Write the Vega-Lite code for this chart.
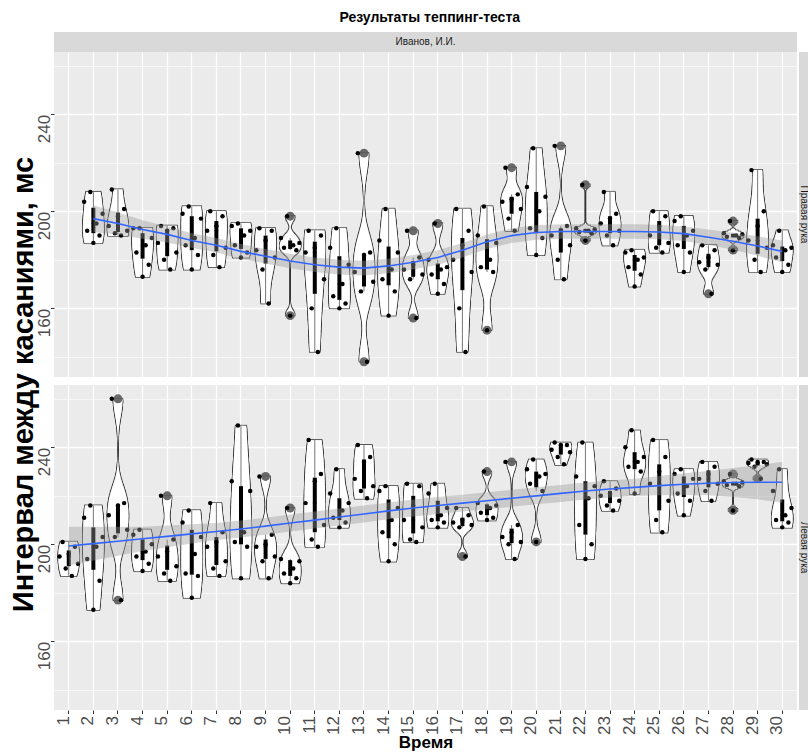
{
  "$schema": "https://vega.github.io/schema/vega-lite/v6.json",
  "background": "white",
  "padding": {"left": 9, "top": 11, "right": 0, "bottom": 0},
  "title": {"text": "Результаты теппинг-теста", "fontSize": 14, "fontWeight": "bold", "color": "black", "anchor": "middle", "frame": "bounds", "dx": 21, "offset": 7},
  "bounds": "flush",
  "columns": 2,
  "spacing": {"row": 0, "column": 2},
  "config": {
    "font": "Liberation Sans",
    "view": {"stroke": null},
    "axis": {"domain": false, "gridColor": "#FFFFFF", "labelColor": "#4D4D4D", "labelFontSize": 17, "labelFont": "Liberation Sans", "tickColor": "#333333", "tickSize": 3.5, "labelPadding": 1.5, "titleFont": "Liberation Sans"},
    "title": {"font": "Liberation Sans"},
    "text": {"font": "Liberation Sans"}
  },
  "datasets": {
    "obs": [
      {"hand":"Правая рука","time":2,"trial":1,"interval":204},{"hand":"Правая рука","time":2,"trial":2,"interval":192},{"hand":"Правая рука","time":2,"trial":3,"interval":208},{"hand":"Правая рука","time":2,"trial":4,"interval":187},{"hand":"Правая рука","time":2,"trial":5,"interval":195},{"hand":"Правая рука","time":2,"trial":6,"interval":190},{"hand":"Правая рука","time":2,"trial":7,"interval":199},
      {"hand":"Правая рука","time":3,"trial":1,"interval":194},{"hand":"Правая рука","time":3,"trial":2,"interval":209},{"hand":"Правая рука","time":3,"trial":3,"interval":191},{"hand":"Правая рука","time":3,"trial":4,"interval":198},{"hand":"Правая рука","time":3,"trial":5,"interval":190},{"hand":"Правая рука","time":3,"trial":6,"interval":201},{"hand":"Правая рука","time":3,"trial":7,"interval":192},
      {"hand":"Правая рука","time":4,"trial":1,"interval":193},{"hand":"Правая рука","time":4,"trial":2,"interval":183},{"hand":"Правая рука","time":4,"trial":3,"interval":193},{"hand":"Правая рука","time":4,"trial":4,"interval":173},{"hand":"Правая рука","time":4,"trial":5,"interval":186},{"hand":"Правая рука","time":4,"trial":6,"interval":178},{"hand":"Правая рука","time":4,"trial":7,"interval":189},
      {"hand":"Правая рука","time":5,"trial":1,"interval":187},{"hand":"Правая рука","time":5,"trial":2,"interval":194},{"hand":"Правая рука","time":5,"trial":3,"interval":180},{"hand":"Правая рука","time":5,"trial":4,"interval":192},{"hand":"Правая рука","time":5,"trial":5,"interval":176},{"hand":"Правая рука","time":5,"trial":6,"interval":193},{"hand":"Правая рука","time":5,"trial":7,"interval":183},
      {"hand":"Правая рука","time":6,"trial":1,"interval":199},{"hand":"Правая рука","time":6,"trial":2,"interval":186},{"hand":"Правая рука","time":6,"trial":3,"interval":202},{"hand":"Правая рука","time":6,"trial":4,"interval":176},{"hand":"Правая рука","time":6,"trial":5,"interval":189},{"hand":"Правая рука","time":6,"trial":6,"interval":182},{"hand":"Правая рука","time":6,"trial":7,"interval":197},
      {"hand":"Правая рука","time":7,"trial":1,"interval":192},{"hand":"Правая рука","time":7,"trial":2,"interval":200},{"hand":"Правая рука","time":7,"trial":3,"interval":182},{"hand":"Правая рука","time":7,"trial":4,"interval":194},{"hand":"Правая рука","time":7,"trial":5,"interval":177},{"hand":"Правая рука","time":7,"trial":6,"interval":198},{"hand":"Правая рука","time":7,"trial":7,"interval":185},
      {"hand":"Правая рука","time":8,"trial":1,"interval":194},{"hand":"Правая рука","time":8,"trial":2,"interval":186},{"hand":"Правая рука","time":8,"trial":3,"interval":195},{"hand":"Правая рука","time":8,"trial":4,"interval":181},{"hand":"Правая рука","time":8,"trial":5,"interval":190},{"hand":"Правая рука","time":8,"trial":6,"interval":183},{"hand":"Правая рука","time":8,"trial":7,"interval":192},
      {"hand":"Правая рука","time":9,"trial":1,"interval":184},{"hand":"Правая рука","time":9,"trial":2,"interval":193},{"hand":"Правая рука","time":9,"trial":3,"interval":176},{"hand":"Правая рука","time":9,"trial":4,"interval":188},{"hand":"Правая рука","time":9,"trial":5,"interval":162},{"hand":"Правая рука","time":9,"trial":6,"interval":192},{"hand":"Правая рука","time":9,"trial":7,"interval":181},
      {"hand":"Правая рука","time":10,"trial":1,"interval":189},{"hand":"Правая рука","time":10,"trial":2,"interval":185},{"hand":"Правая рука","time":10,"trial":3,"interval":198},{"hand":"Правая рука","time":10,"trial":4,"interval":157},{"hand":"Правая рука","time":10,"trial":5,"interval":186},{"hand":"Правая рука","time":10,"trial":6,"interval":184},{"hand":"Правая рука","time":10,"trial":7,"interval":187},
      {"hand":"Правая рука","time":11,"trial":1,"interval":183},{"hand":"Правая рука","time":11,"trial":2,"interval":192},{"hand":"Правая рука","time":11,"trial":3,"interval":160},{"hand":"Правая рука","time":11,"trial":4,"interval":185},{"hand":"Правая рука","time":11,"trial":5,"interval":142},{"hand":"Правая рука","time":11,"trial":6,"interval":190},{"hand":"Правая рука","time":11,"trial":7,"interval":172},
      {"hand":"Правая рука","time":12,"trial":1,"interval":185},{"hand":"Правая рука","time":12,"trial":2,"interval":165},{"hand":"Правая рука","time":12,"trial":3,"interval":193},{"hand":"Правая рука","time":12,"trial":4,"interval":160},{"hand":"Правая рука","time":12,"trial":5,"interval":170},{"hand":"Правая рука","time":12,"trial":6,"interval":162},{"hand":"Правая рука","time":12,"trial":7,"interval":178},
      {"hand":"Правая рука","time":13,"trial":1,"interval":175},{"hand":"Правая рука","time":13,"trial":2,"interval":224},{"hand":"Правая рука","time":13,"trial":3,"interval":167},{"hand":"Правая рука","time":13,"trial":4,"interval":182},{"hand":"Правая рука","time":13,"trial":5,"interval":138},{"hand":"Правая рука","time":13,"trial":6,"interval":183},{"hand":"Правая рука","time":13,"trial":7,"interval":171},
      {"hand":"Правая рука","time":14,"trial":1,"interval":188},{"hand":"Правая рука","time":14,"trial":2,"interval":172},{"hand":"Правая рука","time":14,"trial":3,"interval":201},{"hand":"Правая рука","time":14,"trial":4,"interval":157},{"hand":"Правая рука","time":14,"trial":5,"interval":176},{"hand":"Правая рука","time":14,"trial":6,"interval":167},{"hand":"Правая рука","time":14,"trial":7,"interval":183},
      {"hand":"Правая рука","time":15,"trial":1,"interval":176},{"hand":"Правая рука","time":15,"trial":2,"interval":192},{"hand":"Правая рука","time":15,"trial":3,"interval":172},{"hand":"Правая рука","time":15,"trial":4,"interval":178},{"hand":"Правая рука","time":15,"trial":5,"interval":156},{"hand":"Правая рука","time":15,"trial":6,"interval":181},{"hand":"Правая рука","time":15,"trial":7,"interval":174},
      {"hand":"Правая рука","time":16,"trial":1,"interval":180},{"hand":"Правая рука","time":16,"trial":2,"interval":174},{"hand":"Правая рука","time":16,"trial":3,"interval":195},{"hand":"Правая рука","time":16,"trial":4,"interval":166},{"hand":"Правая рука","time":16,"trial":5,"interval":176},{"hand":"Правая рука","time":16,"trial":6,"interval":170},{"hand":"Правая рука","time":16,"trial":7,"interval":177},
      {"hand":"Правая рука","time":17,"trial":1,"interval":180},{"hand":"Правая рука","time":17,"trial":2,"interval":201},{"hand":"Правая рука","time":17,"trial":3,"interval":160},{"hand":"Правая рука","time":17,"trial":4,"interval":186},{"hand":"Правая рука","time":17,"trial":5,"interval":142},{"hand":"Правая рука","time":17,"trial":6,"interval":192},{"hand":"Правая рука","time":17,"trial":7,"interval":175},
      {"hand":"Правая рука","time":18,"trial":1,"interval":190},{"hand":"Правая рука","time":18,"trial":2,"interval":177},{"hand":"Правая рука","time":18,"trial":3,"interval":202},{"hand":"Правая рука","time":18,"trial":4,"interval":151},{"hand":"Правая рука","time":18,"trial":5,"interval":180},{"hand":"Правая рука","time":18,"trial":6,"interval":175},{"hand":"Правая рука","time":18,"trial":7,"interval":187},
      {"hand":"Правая рука","time":19,"trial":1,"interval":204},{"hand":"Правая рука","time":19,"trial":2,"interval":218},{"hand":"Правая рука","time":19,"trial":3,"interval":197},{"hand":"Правая рука","time":19,"trial":4,"interval":205},{"hand":"Правая рука","time":19,"trial":5,"interval":192},{"hand":"Правая рука","time":19,"trial":6,"interval":207},{"hand":"Правая рука","time":19,"trial":7,"interval":201},
      {"hand":"Правая рука","time":20,"trial":1,"interval":210},{"hand":"Правая рука","time":20,"trial":2,"interval":193},{"hand":"Правая рука","time":20,"trial":3,"interval":226},{"hand":"Правая рука","time":20,"trial":4,"interval":182},{"hand":"Правая рука","time":20,"trial":5,"interval":200},{"hand":"Правая рука","time":20,"trial":6,"interval":189},{"hand":"Правая рука","time":20,"trial":7,"interval":206},
      {"hand":"Правая рука","time":21,"trial":1,"interval":190},{"hand":"Правая рука","time":21,"trial":2,"interval":227},{"hand":"Правая рука","time":21,"trial":3,"interval":180},{"hand":"Правая рука","time":21,"trial":4,"interval":192},{"hand":"Правая рука","time":21,"trial":5,"interval":172},{"hand":"Правая рука","time":21,"trial":6,"interval":194},{"hand":"Правая рука","time":21,"trial":7,"interval":186},
      {"hand":"Правая рука","time":22,"trial":1,"interval":193},{"hand":"Правая рука","time":22,"trial":2,"interval":191.5},{"hand":"Правая рука","time":22,"trial":3,"interval":211},{"hand":"Правая рука","time":22,"trial":4,"interval":188},{"hand":"Правая рука","time":22,"trial":5,"interval":192},{"hand":"Правая рука","time":22,"trial":6,"interval":191},{"hand":"Правая рука","time":22,"trial":7,"interval":192.5},
      {"hand":"Правая рука","time":23,"trial":1,"interval":195},{"hand":"Правая рука","time":23,"trial":2,"interval":208},{"hand":"Правая рука","time":23,"trial":3,"interval":190},{"hand":"Правая рука","time":23,"trial":4,"interval":197},{"hand":"Правая рука","time":23,"trial":5,"interval":186},{"hand":"Правая рука","time":23,"trial":6,"interval":199},{"hand":"Правая рука","time":23,"trial":7,"interval":192},
      {"hand":"Правая рука","time":24,"trial":1,"interval":183},{"hand":"Правая рука","time":24,"trial":2,"interval":177},{"hand":"Правая рука","time":24,"trial":3,"interval":184},{"hand":"Правая рука","time":24,"trial":4,"interval":169},{"hand":"Правая рука","time":24,"trial":5,"interval":180},{"hand":"Правая рука","time":24,"trial":6,"interval":174},{"hand":"Правая рука","time":24,"trial":7,"interval":181},
      {"hand":"Правая рука","time":25,"trial":1,"interval":190},{"hand":"Правая рука","time":25,"trial":2,"interval":200},{"hand":"Правая рука","time":25,"trial":3,"interval":185},{"hand":"Правая рука","time":25,"trial":4,"interval":194},{"hand":"Правая рука","time":25,"trial":5,"interval":183},{"hand":"Правая рука","time":25,"trial":6,"interval":198},{"hand":"Правая рука","time":25,"trial":7,"interval":187},
      {"hand":"Правая рука","time":26,"trial":1,"interval":196},{"hand":"Правая рука","time":26,"trial":2,"interval":186},{"hand":"Правая рука","time":26,"trial":3,"interval":198},{"hand":"Правая рука","time":26,"trial":4,"interval":175},{"hand":"Правая рука","time":26,"trial":5,"interval":190},{"hand":"Правая рука","time":26,"trial":6,"interval":183},{"hand":"Правая рука","time":26,"trial":7,"interval":192},
      {"hand":"Правая рука","time":27,"trial":1,"interval":179},{"hand":"Правая рука","time":27,"trial":2,"interval":186},{"hand":"Правая рука","time":27,"trial":3,"interval":176},{"hand":"Правая рука","time":27,"trial":4,"interval":181},{"hand":"Правая рука","time":27,"trial":5,"interval":166},{"hand":"Правая рука","time":27,"trial":6,"interval":184},{"hand":"Правая рука","time":27,"trial":7,"interval":178},
      {"hand":"Правая рука","time":28,"trial":1,"interval":191},{"hand":"Правая рука","time":28,"trial":2,"interval":189.5},{"hand":"Правая рука","time":28,"trial":3,"interval":196},{"hand":"Правая рука","time":28,"trial":4,"interval":184},{"hand":"Правая рука","time":28,"trial":5,"interval":190},{"hand":"Правая рука","time":28,"trial":6,"interval":189},{"hand":"Правая рука","time":28,"trial":7,"interval":190.5},
      {"hand":"Правая рука","time":29,"trial":1,"interval":188},{"hand":"Правая рука","time":29,"trial":2,"interval":217},{"hand":"Правая рука","time":29,"trial":3,"interval":180},{"hand":"Правая рука","time":29,"trial":4,"interval":194},{"hand":"Правая рука","time":29,"trial":5,"interval":175},{"hand":"Правая рука","time":29,"trial":6,"interval":200},{"hand":"Правая рука","time":29,"trial":7,"interval":185},
      {"hand":"Правая рука","time":30,"trial":1,"interval":186},{"hand":"Правая рука","time":30,"trial":2,"interval":181},{"hand":"Правая рука","time":30,"trial":3,"interval":192},{"hand":"Правая рука","time":30,"trial":4,"interval":175},{"hand":"Правая рука","time":30,"trial":5,"interval":184},{"hand":"Правая рука","time":30,"trial":6,"interval":178},{"hand":"Правая рука","time":30,"trial":7,"interval":185},
      {"hand":"Левая рука","time":1,"trial":1,"interval":195},{"hand":"Левая рука","time":1,"trial":2,"interval":201},{"hand":"Левая рука","time":1,"trial":3,"interval":190},{"hand":"Левая рука","time":1,"trial":4,"interval":196},{"hand":"Левая рука","time":1,"trial":5,"interval":187},{"hand":"Левая рука","time":1,"trial":6,"interval":199},{"hand":"Левая рука","time":1,"trial":7,"interval":192},
      {"hand":"Левая рука","time":2,"trial":1,"interval":211},{"hand":"Левая рука","time":2,"trial":2,"interval":194},{"hand":"Левая рука","time":2,"trial":3,"interval":216},{"hand":"Левая рука","time":2,"trial":4,"interval":173},{"hand":"Левая рука","time":2,"trial":5,"interval":199},{"hand":"Левая рука","time":2,"trial":6,"interval":185},{"hand":"Левая рука","time":2,"trial":7,"interval":203},
      {"hand":"Левая рука","time":3,"trial":1,"interval":212},{"hand":"Левая рука","time":3,"trial":2,"interval":260},{"hand":"Левая рука","time":3,"trial":3,"interval":203},{"hand":"Левая рука","time":3,"trial":4,"interval":216},{"hand":"Левая рука","time":3,"trial":5,"interval":177},{"hand":"Левая рука","time":3,"trial":6,"interval":217},{"hand":"Левая рука","time":3,"trial":7,"interval":206},
      {"hand":"Левая рука","time":4,"trial":1,"interval":204},{"hand":"Левая рука","time":4,"trial":2,"interval":195},{"hand":"Левая рука","time":4,"trial":3,"interval":206},{"hand":"Левая рука","time":4,"trial":4,"interval":189},{"hand":"Левая рука","time":4,"trial":5,"interval":197},{"hand":"Левая рука","time":4,"trial":6,"interval":192},{"hand":"Левая рука","time":4,"trial":7,"interval":200},
      {"hand":"Левая рука","time":5,"trial":1,"interval":195},{"hand":"Левая рука","time":5,"trial":2,"interval":220},{"hand":"Левая рука","time":5,"trial":3,"interval":188},{"hand":"Левая рука","time":5,"trial":4,"interval":197},{"hand":"Левая рука","time":5,"trial":5,"interval":185},{"hand":"Левая рука","time":5,"trial":6,"interval":202},{"hand":"Левая рука","time":5,"trial":7,"interval":191},
      {"hand":"Левая рука","time":6,"trial":1,"interval":209},{"hand":"Левая рука","time":6,"trial":2,"interval":188},{"hand":"Левая рука","time":6,"trial":3,"interval":214},{"hand":"Левая рука","time":6,"trial":4,"interval":178},{"hand":"Левая рука","time":6,"trial":5,"interval":196},{"hand":"Левая рука","time":6,"trial":6,"interval":187},{"hand":"Левая рука","time":6,"trial":7,"interval":203},
      {"hand":"Левая рука","time":7,"trial":1,"interval":199},{"hand":"Левая рука","time":7,"trial":2,"interval":217},{"hand":"Левая рука","time":7,"trial":3,"interval":190},{"hand":"Левая рука","time":7,"trial":4,"interval":201},{"hand":"Левая рука","time":7,"trial":5,"interval":187},{"hand":"Левая рука","time":7,"trial":6,"interval":205},{"hand":"Левая рука","time":7,"trial":7,"interval":193},
      {"hand":"Левая рука","time":8,"trial":1,"interval":226},{"hand":"Левая рука","time":8,"trial":2,"interval":201},{"hand":"Левая рука","time":8,"trial":3,"interval":249},{"hand":"Левая рука","time":8,"trial":4,"interval":186},{"hand":"Левая рука","time":8,"trial":5,"interval":205},{"hand":"Левая рука","time":8,"trial":6,"interval":199},{"hand":"Левая рука","time":8,"trial":7,"interval":222},
      {"hand":"Левая рука","time":9,"trial":1,"interval":199},{"hand":"Левая рука","time":9,"trial":2,"interval":228},{"hand":"Левая рука","time":9,"trial":3,"interval":193},{"hand":"Левая рука","time":9,"trial":4,"interval":200},{"hand":"Левая рука","time":9,"trial":5,"interval":186},{"hand":"Левая рука","time":9,"trial":6,"interval":204},{"hand":"Левая рука","time":9,"trial":7,"interval":195},
      {"hand":"Левая рука","time":10,"trial":1,"interval":194},{"hand":"Левая рука","time":10,"trial":2,"interval":188},{"hand":"Левая рука","time":10,"trial":3,"interval":215},{"hand":"Левая рука","time":10,"trial":4,"interval":184},{"hand":"Левая рука","time":10,"trial":5,"interval":190},{"hand":"Левая рука","time":10,"trial":6,"interval":186},{"hand":"Левая рука","time":10,"trial":7,"interval":193},
      {"hand":"Левая рука","time":11,"trial":1,"interval":217},{"hand":"Левая рука","time":11,"trial":2,"interval":243},{"hand":"Левая рука","time":11,"trial":3,"interval":202},{"hand":"Левая рука","time":11,"trial":4,"interval":226},{"hand":"Левая рука","time":11,"trial":5,"interval":199},{"hand":"Левая рука","time":11,"trial":6,"interval":229},{"hand":"Левая рука","time":11,"trial":7,"interval":208},
      {"hand":"Левая рука","time":12,"trial":1,"interval":221},{"hand":"Левая рука","time":12,"trial":2,"interval":211},{"hand":"Левая рука","time":12,"trial":3,"interval":231},{"hand":"Левая рука","time":12,"trial":4,"interval":207},{"hand":"Левая рука","time":12,"trial":5,"interval":214},{"hand":"Левая рука","time":12,"trial":6,"interval":209},{"hand":"Левая рука","time":12,"trial":7,"interval":217},
      {"hand":"Левая рука","time":13,"trial":1,"interval":227},{"hand":"Левая рука","time":13,"trial":2,"interval":241},{"hand":"Левая рука","time":13,"trial":3,"interval":222},{"hand":"Левая рука","time":13,"trial":4,"interval":234},{"hand":"Левая рука","time":13,"trial":5,"interval":219},{"hand":"Левая рука","time":13,"trial":6,"interval":236},{"hand":"Левая рука","time":13,"trial":7,"interval":224},
      {"hand":"Левая рука","time":14,"trial":1,"interval":222},{"hand":"Левая рука","time":14,"trial":2,"interval":205},{"hand":"Левая рука","time":14,"trial":3,"interval":224},{"hand":"Левая рука","time":14,"trial":4,"interval":193},{"hand":"Левая рука","time":14,"trial":5,"interval":210},{"hand":"Левая рука","time":14,"trial":6,"interval":200},{"hand":"Левая рука","time":14,"trial":7,"interval":215},
      {"hand":"Левая рука","time":15,"trial":1,"interval":210},{"hand":"Левая рука","time":15,"trial":2,"interval":225},{"hand":"Левая рука","time":15,"trial":3,"interval":202},{"hand":"Левая рука","time":15,"trial":4,"interval":216},{"hand":"Левая рука","time":15,"trial":5,"interval":201},{"hand":"Левая рука","time":15,"trial":6,"interval":224},{"hand":"Левая рука","time":15,"trial":7,"interval":207},
      {"hand":"Левая рука","time":16,"trial":1,"interval":221},{"hand":"Левая рука","time":16,"trial":2,"interval":210},{"hand":"Левая рука","time":16,"trial":3,"interval":225},{"hand":"Левая рука","time":16,"trial":4,"interval":207},{"hand":"Левая рука","time":16,"trial":5,"interval":212},{"hand":"Левая рука","time":16,"trial":6,"interval":209},{"hand":"Левая рука","time":16,"trial":7,"interval":215},
      {"hand":"Левая рука","time":17,"trial":1,"interval":209},{"hand":"Левая рука","time":17,"trial":2,"interval":215},{"hand":"Левая рука","time":17,"trial":3,"interval":207},{"hand":"Левая рука","time":17,"trial":4,"interval":210},{"hand":"Левая рука","time":17,"trial":5,"interval":195},{"hand":"Левая рука","time":17,"trial":6,"interval":212},{"hand":"Левая рука","time":17,"trial":7,"interval":208},
      {"hand":"Левая рука","time":18,"trial":1,"interval":217},{"hand":"Левая рука","time":18,"trial":2,"interval":213},{"hand":"Левая рука","time":18,"trial":3,"interval":230},{"hand":"Левая рука","time":18,"trial":4,"interval":210},{"hand":"Левая рука","time":18,"trial":5,"interval":215},{"hand":"Левая рука","time":18,"trial":6,"interval":211},{"hand":"Левая рука","time":18,"trial":7,"interval":216},
      {"hand":"Левая рука","time":19,"trial":1,"interval":203},{"hand":"Левая рука","time":19,"trial":2,"interval":234},{"hand":"Левая рука","time":19,"trial":3,"interval":200},{"hand":"Левая рука","time":19,"trial":4,"interval":205},{"hand":"Левая рука","time":19,"trial":5,"interval":194},{"hand":"Левая рука","time":19,"trial":6,"interval":208},{"hand":"Левая рука","time":19,"trial":7,"interval":201},
      {"hand":"Левая рука","time":20,"trial":1,"interval":231},{"hand":"Левая рука","time":20,"trial":2,"interval":225},{"hand":"Левая рука","time":20,"trial":3,"interval":235},{"hand":"Левая рука","time":20,"trial":4,"interval":201},{"hand":"Левая рука","time":20,"trial":5,"interval":228},{"hand":"Левая рука","time":20,"trial":6,"interval":222},{"hand":"Левая рука","time":20,"trial":7,"interval":229},
      {"hand":"Левая рука","time":21,"trial":1,"interval":239},{"hand":"Левая рука","time":21,"trial":2,"interval":242},{"hand":"Левая рука","time":21,"trial":3,"interval":236},{"hand":"Левая рука","time":21,"trial":4,"interval":241},{"hand":"Левая рука","time":21,"trial":5,"interval":233},{"hand":"Левая рука","time":21,"trial":6,"interval":241},{"hand":"Левая рука","time":21,"trial":7,"interval":238},
      {"hand":"Левая рука","time":22,"trial":1,"interval":228},{"hand":"Левая рука","time":22,"trial":2,"interval":208},{"hand":"Левая рука","time":22,"trial":3,"interval":242},{"hand":"Левая рука","time":22,"trial":4,"interval":194},{"hand":"Левая рука","time":22,"trial":5,"interval":219},{"hand":"Левая рука","time":22,"trial":6,"interval":200},{"hand":"Левая рука","time":22,"trial":7,"interval":224},
      {"hand":"Левая рука","time":23,"trial":1,"interval":220},{"hand":"Левая рука","time":23,"trial":2,"interval":226},{"hand":"Левая рука","time":23,"trial":3,"interval":216},{"hand":"Левая рука","time":23,"trial":4,"interval":221},{"hand":"Левая рука","time":23,"trial":5,"interval":214},{"hand":"Левая рука","time":23,"trial":6,"interval":223},{"hand":"Левая рука","time":23,"trial":7,"interval":218},
      {"hand":"Левая рука","time":24,"trial":1,"interval":240},{"hand":"Левая рука","time":24,"trial":2,"interval":232},{"hand":"Левая рука","time":24,"trial":3,"interval":247},{"hand":"Левая рука","time":24,"trial":4,"interval":221},{"hand":"Левая рука","time":24,"trial":5,"interval":234},{"hand":"Левая рука","time":24,"trial":6,"interval":230},{"hand":"Левая рука","time":24,"trial":7,"interval":236},
      {"hand":"Левая рука","time":25,"trial":1,"interval":225},{"hand":"Левая рука","time":25,"trial":2,"interval":243},{"hand":"Левая рука","time":25,"trial":3,"interval":210},{"hand":"Левая рука","time":25,"trial":4,"interval":230},{"hand":"Левая рука","time":25,"trial":5,"interval":205},{"hand":"Левая рука","time":25,"trial":6,"interval":236},{"hand":"Левая рука","time":25,"trial":7,"interval":218},
      {"hand":"Левая рука","time":26,"trial":1,"interval":229},{"hand":"Левая рука","time":26,"trial":2,"interval":221},{"hand":"Левая рука","time":26,"trial":3,"interval":231},{"hand":"Левая рука","time":26,"trial":4,"interval":212},{"hand":"Левая рука","time":26,"trial":5,"interval":224},{"hand":"Левая рука","time":26,"trial":6,"interval":218},{"hand":"Левая рука","time":26,"trial":7,"interval":227},
      {"hand":"Левая рука","time":27,"trial":1,"interval":227},{"hand":"Левая рука","time":27,"trial":2,"interval":234},{"hand":"Левая рука","time":27,"trial":3,"interval":222},{"hand":"Левая рука","time":27,"trial":4,"interval":229},{"hand":"Левая рука","time":27,"trial":5,"interval":218},{"hand":"Левая рука","time":27,"trial":6,"interval":232},{"hand":"Левая рука","time":27,"trial":7,"interval":225},
      {"hand":"Левая рука","time":28,"trial":1,"interval":226},{"hand":"Левая рука","time":28,"trial":2,"interval":224.5},{"hand":"Левая рука","time":28,"trial":3,"interval":229},{"hand":"Левая рука","time":28,"trial":4,"interval":214},{"hand":"Левая рука","time":28,"trial":5,"interval":225},{"hand":"Левая рука","time":28,"trial":6,"interval":224},{"hand":"Левая рука","time":28,"trial":7,"interval":225.5},
      {"hand":"Левая рука","time":29,"trial":1,"interval":233.5},{"hand":"Левая рука","time":29,"trial":2,"interval":235},{"hand":"Левая рука","time":29,"trial":3,"interval":232},{"hand":"Левая рука","time":29,"trial":4,"interval":234},{"hand":"Левая рука","time":29,"trial":5,"interval":227},{"hand":"Левая рука","time":29,"trial":6,"interval":234},{"hand":"Левая рука","time":29,"trial":7,"interval":233},
      {"hand":"Левая рука","time":30,"trial":1,"interval":222},{"hand":"Левая рука","time":30,"trial":2,"interval":210},{"hand":"Левая рука","time":30,"trial":3,"interval":231},{"hand":"Левая рука","time":30,"trial":4,"interval":207},{"hand":"Левая рука","time":30,"trial":5,"interval":212},{"hand":"Левая рука","time":30,"trial":6,"interval":209},{"hand":"Левая рука","time":30,"trial":7,"interval":215}
    ],
    "smooth": [
      {"hand":"Правая рука","time":2,"fit":197,"lower":191.5,"upper":202.5},
      {"hand":"Правая рука","time":3,"fit":195,"lower":190.5,"upper":199.5},
      {"hand":"Правая рука","time":4,"fit":192.5,"lower":188.7,"upper":196.3},
      {"hand":"Правая рука","time":5,"fit":190.5,"lower":187.2,"upper":193.8},
      {"hand":"Правая рука","time":6,"fit":188,"lower":185,"upper":191},
      {"hand":"Правая рука","time":7,"fit":186,"lower":183,"upper":189},
      {"hand":"Правая рука","time":8,"fit":183.5,"lower":180.5,"upper":186.5},
      {"hand":"Правая рука","time":9,"fit":181.5,"lower":178.5,"upper":184.5},
      {"hand":"Правая рука","time":10,"fit":179.5,"lower":176.5,"upper":182.5},
      {"hand":"Правая рука","time":11,"fit":178,"lower":175,"upper":181},
      {"hand":"Правая рука","time":12,"fit":177,"lower":174,"upper":180},
      {"hand":"Правая рука","time":13,"fit":176.6,"lower":173.6,"upper":179.6},
      {"hand":"Правая рука","time":14,"fit":177.5,"lower":174.5,"upper":180.5},
      {"hand":"Правая рука","time":15,"fit":179,"lower":176,"upper":182},
      {"hand":"Правая рука","time":16,"fit":181,"lower":178,"upper":184},
      {"hand":"Правая рука","time":17,"fit":184,"lower":181,"upper":187},
      {"hand":"Правая рука","time":18,"fit":187.5,"lower":184.5,"upper":190.5},
      {"hand":"Правая рука","time":19,"fit":190,"lower":187,"upper":193},
      {"hand":"Правая рука","time":20,"fit":191.3,"lower":188.3,"upper":194.3},
      {"hand":"Правая рука","time":21,"fit":191.7,"lower":188.7,"upper":194.7},
      {"hand":"Правая рука","time":22,"fit":191.7,"lower":188.7,"upper":194.7},
      {"hand":"Правая рука","time":23,"fit":191.7,"lower":188.7,"upper":194.7},
      {"hand":"Правая рука","time":24,"fit":191.7,"lower":188.7,"upper":194.7},
      {"hand":"Правая рука","time":25,"fit":191.5,"lower":188.5,"upper":194.5},
      {"hand":"Правая рука","time":26,"fit":190.8,"lower":187.8,"upper":193.8},
      {"hand":"Правая рука","time":27,"fit":189.3,"lower":186.1,"upper":192.5},
      {"hand":"Правая рука","time":28,"fit":187.7,"lower":184.2,"upper":191.2},
      {"hand":"Правая рука","time":29,"fit":185.7,"lower":181.7,"upper":189.7},
      {"hand":"Правая рука","time":30,"fit":183.5,"lower":179,"upper":188},
      {"hand":"Левая рука","time":1,"fit":199.3,"lower":191.3,"upper":207.3},
      {"hand":"Левая рука","time":2,"fit":200.3,"lower":193.3,"upper":207.3},
      {"hand":"Левая рука","time":3,"fit":201.3,"lower":195.3,"upper":207.3},
      {"hand":"Левая рука","time":4,"fit":202.3,"lower":197.3,"upper":207.3},
      {"hand":"Левая рука","time":5,"fit":203.3,"lower":198.8,"upper":207.8},
      {"hand":"Левая рука","time":6,"fit":204.3,"lower":200.3,"upper":208.3},
      {"hand":"Левая рука","time":7,"fit":205.3,"lower":201.8,"upper":208.8},
      {"hand":"Левая рука","time":8,"fit":206.3,"lower":202.8,"upper":209.8},
      {"hand":"Левая рука","time":9,"fit":207.5,"lower":204,"upper":211},
      {"hand":"Левая рука","time":10,"fit":208.8,"lower":205.3,"upper":212.3},
      {"hand":"Левая рука","time":11,"fit":210,"lower":206.5,"upper":213.5},
      {"hand":"Левая рука","time":12,"fit":211.3,"lower":207.8,"upper":214.8},
      {"hand":"Левая рука","time":13,"fit":212.5,"lower":209,"upper":216},
      {"hand":"Левая рука","time":14,"fit":213.8,"lower":210.3,"upper":217.3},
      {"hand":"Левая рука","time":15,"fit":215,"lower":211.5,"upper":218.5},
      {"hand":"Левая рука","time":16,"fit":216,"lower":212.5,"upper":219.5},
      {"hand":"Левая рука","time":17,"fit":217,"lower":213.5,"upper":220.5},
      {"hand":"Левая рука","time":18,"fit":218,"lower":214.5,"upper":221.5},
      {"hand":"Левая рука","time":19,"fit":219,"lower":215.5,"upper":222.5},
      {"hand":"Левая рука","time":20,"fit":220,"lower":216.5,"upper":223.5},
      {"hand":"Левая рука","time":21,"fit":221,"lower":217.5,"upper":224.5},
      {"hand":"Левая рука","time":22,"fit":222,"lower":218.5,"upper":225.5},
      {"hand":"Левая рука","time":23,"fit":222.8,"lower":219.3,"upper":226.3},
      {"hand":"Левая рука","time":24,"fit":223.5,"lower":220,"upper":227},
      {"hand":"Левая рука","time":25,"fit":224.2,"lower":220.2,"upper":228.2},
      {"hand":"Левая рука","time":26,"fit":224.8,"lower":220.3,"upper":229.3},
      {"hand":"Левая рука","time":27,"fit":225.2,"lower":220.2,"upper":230.2},
      {"hand":"Левая рука","time":28,"fit":225.5,"lower":219.5,"upper":231.5},
      {"hand":"Левая рука","time":29,"fit":225.6,"lower":218.6,"upper":232.6},
      {"hand":"Левая рука","time":30,"fit":225.6,"lower":217.1,"upper":234.1}
    ]
  },
  "concat": [
    {
      "width": 743, "height": 20,
      "view": {"fill": "#D9D9D9", "stroke": null},
      "data": {"values": [{"person": "Иванов, И.И."}]},
      "mark": {"type": "text", "fontSize": 10, "color": "#1A1A1A", "baseline": "middle", "align": "center"},
      "encoding": {"text": {"field": "person"}}
    },
    {
      "width": 9, "height": 20,
      "view": {"fill": null, "stroke": null},
      "data": {"values": [{}]},
      "mark": {"type": "rect", "opacity": 0},
      "encoding": {}
    },
    {
      "width": 743, "height": 325,
      "view": {"fill": "#EBEBEB", "stroke": null},
      "data": {"name": "obs"},
      "layer": [
        {
          "transform": [
            {"filter": "datum.hand == 'Правая рука'"},
            {"joinaggregate": [{"op": "min", "field": "interval", "as": "vmin"}, {"op": "max", "field": "interval", "as": "vmax"}], "groupby": ["time"]},
            {"density": "interval", "groupby": ["time", "vmin", "vmax"], "extent": [131, 266], "steps": 271, "as": ["value", "density"]},
            {"filter": "datum.value >= datum.vmin && datum.value <= datum.vmax"},
            {"joinaggregate": [{"op": "max", "field": "density", "as": "dmax"}], "groupby": ["time"]},
            {"fold": ["density", "dmax"], "as": ["part", "amount"]},
            {"stack": "amount", "groupby": ["time", "value"], "offset": "normalize", "sort": [{"field": "part", "order": "ascending"}], "as": ["w0", "w1"]},
            {"filter": "datum.part == 'density'"}
          ],
          "layer": [
            {
              "mark": {"type": "tick", "color": "#333333", "thickness": 3.4, "opacity": 1},
              "encoding": {
                "x": {"field": "time", "type": "ordinal", "title": null, "scale": {"type": "band", "domain": [1,2,3,4,5,6,7,8,9,10,11,12,13,14,15,16,17,18,19,20,21,22,23,24,25,26,27,28,29,30], "paddingInner": 0, "paddingOuter": 0.1},
                  "axis": {"title": null, "labels": false, "ticks": false, "domain": false, "grid": true, "gridColor": "#FFFFFF", "gridWidth": 1.2, "bandPosition": 0.5}},
                "y": {"field": "value", "type": "quantitative", "title": "Интервал между касаниями, мс", "scale": {"domain": [131.7, 265.7], "nice": false, "zero": false},
                  "axis": {"title": "Интервал между касаниями, мс", "titleFontSize": 29, "titleFontWeight": "bold", "titleColor": "#000000", "titleX": -22, "titleY": 332, "titleAngle": -90, "titleAlign": "center", "titleBaseline": "alphabetic",
                    "values": [140, 160, 180, 200, 220, 240, 260], "labelExpr": "datum.value % 40 == 0 ? datum.label : ''", "labelAngle": -90, "labelAlign": "right", "labelBaseline": "alphabetic",
                    "grid": true, "gridColor": "#FFFFFF", "gridWidth": {"condition": {"test": "datum.value % 40 == 0", "value": 1.3}, "value": 0.6},
                    "tickOpacity": {"condition": {"test": "datum.value % 40 == 0", "value": 1}, "value": 0}}},
                "size": {"field": "w1", "type": "quantitative", "scale": {"domain": [0, 0.5], "range": [1.4, 22.4]}, "legend": null}
              }
            },
            {
              "mark": {"type": "tick", "color": "#FFFFFF", "thickness": 2, "opacity": 1},
              "encoding": {
                "x": {"field": "time", "type": "ordinal", "title": null},
                "y": {"field": "value", "type": "quantitative", "title": "Интервал между касаниями, мс"},
                "size": {"field": "w1", "type": "quantitative", "scale": {"domain": [0, 0.5], "range": [0, 21]}, "legend": null}
              }
            }
          ],
          "resolve": {"scale": {"size": "independent"}}
        },
        {
          "transform": [{"filter": "datum.hand == 'Правая рука'"}],
          "mark": {"type": "boxplot", "extent": 1.5, "size": 4, "color": "#000000", "median": {"color": "#000000"}, "rule": {"color": "#777777", "strokeWidth": 1}, "ticks": false, "outliers": {"color": "#5A5A5A", "size": 80, "filled": true, "opacity": 0.9}},
          "encoding": {"x": {"field": "time", "type": "ordinal", "title": null}, "y": {"field": "interval", "type": "quantitative", "title": "Интервал между касаниями, мс"}}
        },
        {
          "transform": [{"filter": "datum.hand == 'Правая рука'"}],
          "mark": {"type": "circle", "color": "#000000", "size": 20, "opacity": 1},
          "encoding": {"x": {"field": "time", "type": "ordinal", "title": null}, "xOffset": {"field": "trial", "type": "ordinal", "scale": {"paddingOuter": 1, "paddingInner": 0}}, "y": {"field": "interval", "type": "quantitative", "title": "Интервал между касаниями, мс"}}
        },
        {
          "data": {"name": "smooth"},
          "transform": [{"filter": "datum.hand == 'Правая рука'"}],
          "mark": {"type": "area", "color": "#999999", "opacity": 0.4},
          "encoding": {"x": {"field": "time", "type": "ordinal", "title": null}, "y": {"field": "lower", "type": "quantitative", "title": "Интервал между касаниями, мс"}, "y2": {"field": "upper"}}
        },
        {
          "data": {"name": "smooth"},
          "transform": [{"filter": "datum.hand == 'Правая рука'"}],
          "mark": {"type": "line", "color": "#3366FF", "strokeWidth": 1.6},
          "encoding": {"x": {"field": "time", "type": "ordinal", "title": null}, "y": {"field": "fit", "type": "quantitative", "title": "Интервал между касаниями, мс"}}
        }
      ]
    },
    {
      "width": 9, "height": 325,
      "view": {"fill": "#D9D9D9", "stroke": null},
      "data": {"values": [{"hand": "Правая рука"}]},
      "mark": {"type": "text", "angle": 90, "fontSize": 10, "color": "#1A1A1A", "baseline": "middle", "align": "center"},
      "encoding": {"text": {"field": "hand"}}
    },
    {
      "width": 743, "height": 8,
      "view": {"fill": null, "stroke": null},
      "data": {"values": [{}]},
      "mark": {"type": "rect", "opacity": 0},
      "encoding": {}
    },
    {
      "width": 9, "height": 8,
      "view": {"fill": null, "stroke": null},
      "data": {"values": [{}]},
      "mark": {"type": "rect", "opacity": 0},
      "encoding": {}
    },
    {
      "width": 743, "height": 325,
      "view": {"fill": "#EBEBEB", "stroke": null},
      "data": {"name": "obs"},
      "layer": [
        {
          "transform": [
            {"filter": "datum.hand == 'Левая рука'"},
            {"joinaggregate": [{"op": "min", "field": "interval", "as": "vmin"}, {"op": "max", "field": "interval", "as": "vmax"}], "groupby": ["time"]},
            {"density": "interval", "groupby": ["time", "vmin", "vmax"], "extent": [131, 266], "steps": 271, "as": ["value", "density"]},
            {"filter": "datum.value >= datum.vmin && datum.value <= datum.vmax"},
            {"joinaggregate": [{"op": "max", "field": "density", "as": "dmax"}], "groupby": ["time"]},
            {"fold": ["density", "dmax"], "as": ["part", "amount"]},
            {"stack": "amount", "groupby": ["time", "value"], "offset": "normalize", "sort": [{"field": "part", "order": "ascending"}], "as": ["w0", "w1"]},
            {"filter": "datum.part == 'density'"}
          ],
          "layer": [
            {
              "mark": {"type": "tick", "color": "#333333", "thickness": 3.4, "opacity": 1},
              "encoding": {
                "x": {"field": "time", "type": "ordinal", "title": "Время", "scale": {"type": "band", "domain": [1,2,3,4,5,6,7,8,9,10,11,12,13,14,15,16,17,18,19,20,21,22,23,24,25,26,27,28,29,30], "paddingInner": 0, "paddingOuter": 0.1},
                  "axis": {"title": "Время", "titleFontSize": 17, "titleFontWeight": "bold", "titleColor": "#000000", "titlePadding": 0, "labelAngle": -90, "labelAlign": "right", "labelBaseline": "alphabetic", "labelPadding": 2, "labelOverlap": false, "ticks": true, "domain": false, "grid": true, "gridColor": "#FFFFFF", "gridWidth": 1.2, "bandPosition": 0.5}},
                "y": {"field": "value", "type": "quantitative", "title": null, "scale": {"domain": [131.7, 265.7], "nice": false, "zero": false},
                  "axis": {"title": null,
                    "values": [140, 160, 180, 200, 220, 240, 260], "labelExpr": "datum.value % 40 == 0 ? datum.label : ''", "labelAngle": -90, "labelAlign": "right", "labelBaseline": "alphabetic",
                    "grid": true, "gridColor": "#FFFFFF", "gridWidth": {"condition": {"test": "datum.value % 40 == 0", "value": 1.3}, "value": 0.6},
                    "tickOpacity": {"condition": {"test": "datum.value % 40 == 0", "value": 1}, "value": 0}}},
                "size": {"field": "w1", "type": "quantitative", "scale": {"domain": [0, 0.5], "range": [1.4, 22.4]}, "legend": null}
              }
            },
            {
              "mark": {"type": "tick", "color": "#FFFFFF", "thickness": 2, "opacity": 1},
              "encoding": {
                "x": {"field": "time", "type": "ordinal", "title": "Время"},
                "y": {"field": "value", "type": "quantitative", "title": null},
                "size": {"field": "w1", "type": "quantitative", "scale": {"domain": [0, 0.5], "range": [0, 21]}, "legend": null}
              }
            }
          ],
          "resolve": {"scale": {"size": "independent"}}
        },
        {
          "transform": [{"filter": "datum.hand == 'Левая рука'"}],
          "mark": {"type": "boxplot", "extent": 1.5, "size": 4, "color": "#000000", "median": {"color": "#000000"}, "rule": {"color": "#777777", "strokeWidth": 1}, "ticks": false, "outliers": {"color": "#5A5A5A", "size": 80, "filled": true, "opacity": 0.9}},
          "encoding": {"x": {"field": "time", "type": "ordinal", "title": "Время"}, "y": {"field": "interval", "type": "quantitative", "title": null}}
        },
        {
          "transform": [{"filter": "datum.hand == 'Левая рука'"}],
          "mark": {"type": "circle", "color": "#000000", "size": 20, "opacity": 1},
          "encoding": {"x": {"field": "time", "type": "ordinal", "title": "Время"}, "xOffset": {"field": "trial", "type": "ordinal", "scale": {"paddingOuter": 1, "paddingInner": 0}}, "y": {"field": "interval", "type": "quantitative", "title": null}}
        },
        {
          "data": {"name": "smooth"},
          "transform": [{"filter": "datum.hand == 'Левая рука'"}],
          "mark": {"type": "area", "color": "#999999", "opacity": 0.4},
          "encoding": {"x": {"field": "time", "type": "ordinal", "title": "Время"}, "y": {"field": "lower", "type": "quantitative", "title": null}, "y2": {"field": "upper"}}
        },
        {
          "data": {"name": "smooth"},
          "transform": [{"filter": "datum.hand == 'Левая рука'"}],
          "mark": {"type": "line", "color": "#3366FF", "strokeWidth": 1.6},
          "encoding": {"x": {"field": "time", "type": "ordinal", "title": "Время"}, "y": {"field": "fit", "type": "quantitative", "title": null}}
        }
      ]
    },
    {
      "width": 9, "height": 325,
      "view": {"fill": "#D9D9D9", "stroke": null},
      "data": {"values": [{"hand": "Левая рука"}]},
      "mark": {"type": "text", "angle": 90, "fontSize": 10, "color": "#1A1A1A", "baseline": "middle", "align": "center"},
      "encoding": {"text": {"field": "hand"}}
    }
  ]
}
